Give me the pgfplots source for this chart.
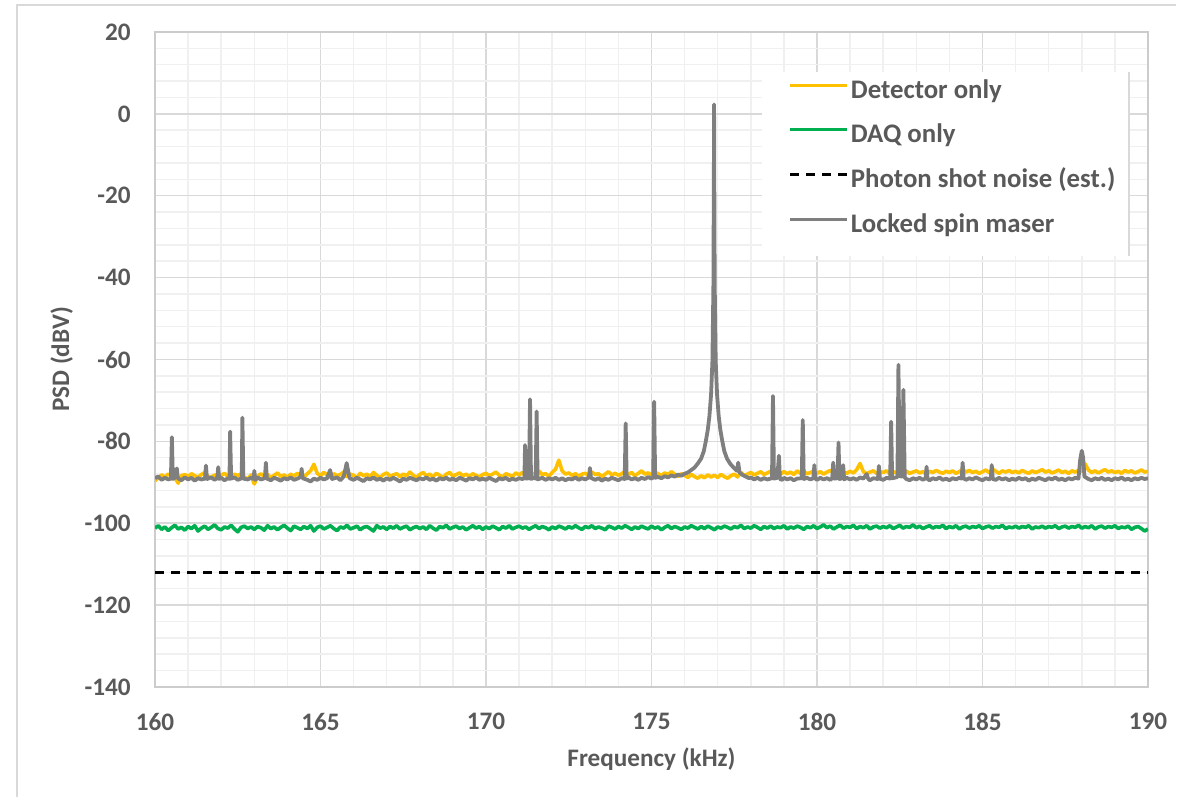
\documentclass[border=0pt]{standalone}
\usepackage{fontspec}
\setmainfont{Carlito}
\usepackage{pgfplots}
\usepackage{pgfplotstable}
\pgfplotsset{compat=1.18}

\definecolor{txt}{HTML}{595959}
\definecolor{majgrid}{HTML}{D9D9D9}
\definecolor{mingrid}{HTML}{F0F0F0}
\definecolor{axgray}{HTML}{CCCCCC}
\definecolor{detyellow}{HTML}{FFC000}
\definecolor{daqgreen}{HTML}{00B050}
\definecolor{masergray}{HTML}{7F7F7F}

% detector-only and DAQ-only spectra, 0.1 kHz steps
\pgfplotstableread{
f det daq
160.0 -89.6 -101.2
160.1 -88.9 -100.6
160.2 -88.2 -101.5
160.3 -88.7 -100.9
160.4 -88.0 -101.8
160.5 -88.5 -101.1
160.6 -88.9 -100.5
160.7 -90.2 -101.4
160.8 -88.4 -101.0
160.9 -88.1 -101.7
161.0 -88.6 -100.8
161.1 -87.9 -101.3
161.2 -88.4 -100.6
161.3 -88.8 -101.9
161.4 -88.1 -101.2
161.5 -87.6 -100.7
161.6 -88.5 -101.5
161.7 -88.9 -101.0
161.8 -88.2 -100.4
161.9 -88.7 -101.3
162.0 -88.3 -101.6
162.1 -87.8 -100.9
162.2 -88.6 -101.2
162.3 -89.1 -100.5
162.4 -88.0 -101.4
162.5 -88.4 -102.1
162.6 -87.9 -101.0
162.7 -88.7 -100.7
162.8 -89.3 -101.3
162.9 -88.2 -100.9
163.0 -90.4 -101.5
163.1 -88.5 -100.8
163.2 -87.9 -101.1
163.3 -88.6 -101.7
163.4 -88.1 -100.6
163.5 -88.9 -101.3
163.6 -88.3 -100.9
163.7 -87.7 -101.6
163.8 -88.6 -101.0
163.9 -88.2 -100.5
164.0 -88.8 -101.2
164.1 -88.0 -101.8
164.2 -88.5 -100.7
164.3 -87.8 -101.1
164.4 -88.3 -101.5
164.5 -88.7 -100.8
164.6 -87.9 -101.3
164.7 -87.2 -100.6
164.8 -85.6 -101.9
164.9 -87.8 -101.0
165.0 -88.4 -100.7
165.1 -87.6 -101.4
165.2 -88.2 -101.0
165.3 -88.8 -100.6
165.4 -87.9 -101.3
165.5 -88.4 -101.8
165.6 -88.1 -100.9
165.7 -87.5 -101.2
165.8 -88.6 -100.5
165.9 -88.0 -101.4
166.0 -88.3 -101.1
166.1 -88.9 -100.7
166.2 -87.8 -101.6
166.3 -88.4 -101.0
166.4 -88.0 -100.8
166.5 -88.7 -101.3
166.6 -87.6 -101.9
166.7 -88.3 -100.6
166.8 -88.9 -101.2
166.9 -88.1 -100.9
167.0 -87.7 -101.5
167.1 -88.5 -100.8
167.2 -88.2 -101.2
167.3 -87.9 -100.6
167.4 -88.6 -101.4
167.5 -88.0 -101.0
167.6 -88.4 -100.7
167.7 -87.5 -101.6
167.8 -88.3 -101.1
167.9 -88.8 -100.8
168.0 -88.1 -101.3
168.1 -87.6 -100.9
168.2 -88.4 -101.5
168.3 -88.0 -100.6
168.4 -88.7 -101.2
168.5 -87.8 -101.7
168.6 -88.3 -100.8
168.7 -88.9 -101.1
168.8 -88.0 -100.5
168.9 -87.6 -101.4
169.0 -88.5 -101.0
169.1 -88.1 -100.7
169.2 -87.7 -101.3
169.3 -88.4 -100.9
169.4 -88.0 -101.6
169.5 -88.6 -101.1
169.6 -87.9 -100.6
169.7 -88.3 -101.2
169.8 -88.7 -100.8
169.9 -88.1 -101.5
170.0 -87.8 -100.9
170.1 -88.4 -101.3
170.2 -88.0 -100.7
170.3 -87.5 -101.1
170.4 -88.3 -101.6
170.5 -88.7 -100.8
170.6 -87.9 -101.2
170.7 -88.2 -100.6
170.8 -88.6 -101.4
170.9 -87.7 -101.0
171.0 -88.2 -100.7
171.1 -87.6 -101.2
171.2 -88.5 -100.9
171.3 -88.0 -101.5
171.4 -87.8 -101.0
171.5 -88.4 -100.6
171.6 -87.3 -101.3
171.7 -88.1 -100.8
171.8 -87.9 -101.1
171.9 -88.5 -101.6
172.0 -87.6 -100.9
172.1 -86.8 -101.3
172.2 -84.6 -100.7
172.3 -87.2 -101.0
172.4 -88.0 -101.4
172.5 -87.7 -100.8
172.6 -88.3 -101.2
172.7 -87.9 -100.6
172.8 -88.5 -101.1
172.9 -88.0 -101.5
173.0 -87.8 -100.8
173.1 -88.3 -101.1
173.2 -87.5 -100.6
173.3 -88.1 -101.3
173.4 -87.9 -100.9
173.5 -88.6 -101.2
173.6 -88.0 -101.6
173.7 -87.4 -100.7
173.8 -88.2 -101.0
173.9 -87.8 -101.4
174.0 -88.3 -100.8
174.1 -87.9 -101.2
174.2 -87.3 -100.6
174.3 -88.1 -101.0
174.4 -87.6 -101.5
174.5 -88.4 -100.9
174.6 -87.8 -101.3
174.7 -87.2 -100.7
174.8 -88.0 -101.1
174.9 -87.7 -101.4
175.0 -88.2 -100.7
175.1 -87.5 -101.2
175.2 -87.9 -100.9
175.3 -88.4 -101.6
175.4 -87.7 -101.0
175.5 -88.1 -100.6
175.6 -87.4 -101.3
175.7 -88.0 -100.8
175.8 -88.6 -101.1
175.9 -87.9 -101.5
176.0 -88.3 -100.9
176.1 -88.8 -101.2
176.2 -88.1 -100.6
176.3 -88.6 -101.0
176.4 -89.0 -101.4
176.5 -88.4 -100.8
176.6 -88.9 -101.3
176.7 -88.2 -100.7
176.8 -88.7 -101.1
176.9 -88.3 -101.6
177.0 -88.8 -100.9
177.1 -88.1 -101.2
177.2 -88.6 -100.7
177.3 -89.0 -101.0
177.4 -88.4 -101.4
177.5 -88.0 -100.8
177.6 -88.7 -101.1
177.7 -87.6 -100.5
177.8 -88.3 -101.3
177.9 -88.0 -100.9
178.0 -87.6 -101.2
178.1 -88.2 -100.6
178.2 -87.8 -101.0
178.3 -87.4 -101.5
178.4 -88.1 -100.8
178.5 -87.7 -101.2
178.6 -87.3 -100.7
178.7 -87.9 -101.3
178.8 -87.5 -100.9
178.9 -88.0 -101.1
179.0 -87.4 -100.6
179.1 -87.9 -101.4
179.2 -87.5 -100.9
179.3 -88.1 -101.2
179.4 -87.2 -100.7
179.5 -87.8 -101.0
179.6 -87.4 -101.5
179.7 -87.9 -100.8
179.8 -87.6 -101.1
179.9 -87.3 -100.6
180.0 -87.8 -101.3
180.1 -87.4 -100.9
180.2 -88.0 -100.4
180.3 -87.5 -101.1
180.4 -87.1 -100.7
180.5 -87.7 -101.4
180.6 -87.3 -100.9
180.7 -87.9 -100.5
180.8 -87.5 -101.2
180.9 -87.8 -100.8
181.0 -87.3 -101.0
181.1 -87.7 -100.5
181.2 -86.9 -101.3
181.3 -85.4 -100.8
181.4 -87.4 -101.1
181.5 -87.9 -100.6
181.6 -87.5 -101.4
181.7 -87.2 -100.9
181.8 -87.8 -100.7
181.9 -87.4 -101.2
182.0 -87.6 -100.8
182.1 -87.2 -101.1
182.2 -87.9 -100.6
182.3 -87.4 -101.3
182.4 -87.7 -100.9
182.5 -87.1 -100.5
182.6 -87.6 -101.2
182.7 -87.3 -100.8
182.8 -87.8 -101.0
182.9 -87.5 -100.4
183.0 -87.2 -101.1
183.1 -87.7 -100.7
183.2 -87.4 -101.3
183.3 -87.9 -100.9
183.4 -87.3 -100.6
183.5 -87.6 -101.2
183.6 -87.1 -100.8
183.7 -87.5 -101.0
183.8 -87.8 -100.5
183.9 -87.3 -101.3
184.0 -87.6 -100.8
184.1 -87.2 -101.1
184.2 -87.8 -100.6
184.3 -87.4 -101.4
184.4 -86.8 -100.9
184.5 -87.5 -100.7
184.6 -87.1 -101.2
184.7 -87.6 -100.8
184.8 -87.3 -101.0
184.9 -87.8 -100.6
185.0 -87.4 -101.3
185.1 -87.0 -100.9
185.2 -87.6 -100.7
185.3 -86.7 -101.2
185.4 -87.3 -100.8
185.5 -87.8 -101.0
185.6 -87.2 -100.5
185.7 -87.5 -101.3
185.8 -87.1 -100.9
185.9 -87.6 -101.1
186.0 -87.3 -100.7
186.1 -87.7 -101.2
186.2 -87.1 -100.8
186.3 -87.5 -101.0
186.4 -87.8 -100.6
186.5 -87.2 -101.4
186.6 -87.6 -100.9
186.7 -87.3 -101.1
186.8 -86.9 -100.7
186.9 -87.5 -101.2
187.0 -87.2 -100.8
187.1 -87.7 -101.0
187.2 -87.4 -100.6
187.3 -87.0 -101.3
187.4 -87.6 -100.9
187.5 -87.3 -100.7
187.6 -87.8 -101.2
187.7 -87.2 -100.8
187.8 -87.5 -101.0
187.9 -87.1 -100.5
188.0 -87.4 -101.2
188.1 -85.5 -100.8
188.2 -87.0 -101.1
188.3 -87.6 -100.6
188.4 -87.2 -101.4
188.5 -87.7 -100.9
188.6 -87.3 -100.7
188.7 -86.9 -101.2
188.8 -87.5 -100.8
188.9 -87.2 -101.0
189.0 -87.6 -100.6
189.1 -87.3 -101.3
189.2 -87.8 -100.9
189.3 -87.1 -101.1
189.4 -87.5 -100.7
189.5 -87.2 -101.5
189.6 -87.7 -101.0
189.7 -87.4 -100.8
189.8 -87.0 -101.3
189.9 -87.5 -101.9
190.0 -87.3 -101.4
}\noisetab

\begin{document}
\begin{tikzpicture}
\path[use as bounding box] (0pt,0pt) rectangle (597pt,398.5pt);
% chart area frame (only top and left edges show)
\draw[majgrid, line width=0.75pt] (8.5pt,0pt) -- (8.5pt,396pt) -- (588pt,396pt);
\begin{axis}[
  at={(77.5pt,55pt)}, anchor=south west,
  scale only axis, width=496.5pt, height=327.5pt,
  xmin=160, xmax=190, ymin=-140, ymax=20,
  xtick={160,165,...,190}, ytick={-140,-120,...,20},
  minor x tick num=4, minor y tick num=4,
  grid=both,
  major grid style={draw=majgrid, line width=0.75pt},
  minor grid style={draw=mingrid, line width=0.75pt},
  axis line style={draw=axgray, line width=0.75pt},
  major tick length=0pt, minor tick length=0pt,
  /pgf/number format/assume math mode=true,
  tick label style={font=\fontsize{12.6}{15}\selectfont\bfseries, text=txt},
  yticklabel style={anchor=east, inner sep=0pt, xshift=-12pt},
  xticklabel style={anchor=north, inner sep=0pt, yshift=-13pt},
  xlabel={Frequency (kHz)}, ylabel={PSD (dBV)},
  label style={font=\fontsize{12.6}{15}\selectfont\bfseries, text=txt, inner sep=0pt},
  xlabel style={at={(axis description cs:0.5,-0.1221)}, anchor=base},
  ylabel style={at={(axis description cs:-0.0866,0.5)}, anchor=base, rotate=0},
  legend style={at={(axis description cs:0.611,0.939)}, anchor=north west,
    draw=none, fill=none, inner xsep=13pt, inner ysep=1pt,
    row sep=7.5pt, column sep=1pt,
    font=\fontsize{13.4}{16}\selectfont\bfseries, text=txt,
    nodes={inner sep=0pt, text height=9pt, text depth=3pt}},
  legend cell align=left,
  legend image code/.code={\path (0pt,0pt) (28.5pt,8pt);
    \draw[#1, line width=1.5pt] (0pt,3.5pt) -- (28.5pt,3.5pt);},
  every axis plot/.append style={line join=round},
]
% legend background
\fill[white] (axis description cs:0.611,0.939) rectangle (axis description cs:0.981,0.658);
\draw[majgrid, line width=0.75pt] (axis description cs:0.981,0.939) -- (axis description cs:0.981,0.658);

\addplot[detyellow, line width=1.8pt] table[x=f, y=det] {\noisetab};
\addlegendentry{Detector only}
\addplot[daqgreen, line width=1.8pt] table[x=f, y=daq] {\noisetab};
\addlegendentry{DAQ only}
\addplot[black, line width=1.25pt, dash pattern=on 4.5pt off 3.5pt] coordinates {(160,-112) (190,-112)};
\addlegendentry{Photon shot noise (est.)}
\addplot[masergray, line width=1.9pt] coordinates {
(160.0,-89.0) (160.1,-88.6) (160.2,-89.4) (160.3,-88.9) (160.4,-89.3) (160.48,-89.1) (160.51,-79.0) (160.54,-89.2)
(160.6,-88.9) (160.66,-86.6) (160.69,-89.0) (160.8,-89.5) (160.9,-88.8)
(161.0,-89.3) (161.1,-88.9) (161.2,-89.6) (161.3,-89.0) (161.4,-89.3) (161.51,-89.1) (161.54,-85.9) (161.57,-89.2)
(161.7,-88.8) (161.8,-89.4) (161.88,-89.0) (161.91,-86.3) (161.94,-89.2)
(162.0,-88.9) (162.1,-89.5) (162.2,-89.0) (162.25,-89.2) (162.27,-77.6) (162.30,-89.1) (162.4,-88.8) (162.5,-89.4)
(162.62,-89.0) (162.64,-74.2) (162.67,-89.1) (162.8,-89.3) (162.9,-88.9)
(162.98,-89.2) (163.00,-87.2) (163.03,-89.4) (163.1,-88.8) (163.2,-89.3) (163.32,-89.0) (163.35,-85.2) (163.38,-89.1)
(163.5,-89.5) (163.6,-88.9) (163.7,-89.2) (163.8,-89.6) (163.9,-89.0)
(164.0,-89.3) (164.1,-88.8) (164.2,-89.4) (164.3,-89.1) (164.40,-88.7) (164.43,-86.7) (164.46,-89.0) (164.6,-89.4)
(164.7,-89.8) (164.8,-89.1) (164.9,-89.4)
(165.0,-88.9) (165.1,-89.3) (165.2,-89.0) (165.29,-87.0) (165.35,-89.2) (165.5,-88.8) (165.6,-89.5) (165.7,-88.6)
(165.76,-86.5) (165.79,-85.3) (165.82,-86.6) (165.88,-89.0)
(166.0,-89.4) (166.1,-88.9) (166.2,-89.3) (166.3,-89.7) (166.4,-89.0) (166.5,-89.3) (166.6,-88.8) (166.7,-89.4) (166.8,-89.1) (166.9,-89.6)
(167.0,-89.0) (167.1,-89.4) (167.2,-88.9) (167.3,-89.3) (167.4,-89.8) (167.5,-89.1) (167.6,-89.4) (167.7,-88.9) (167.8,-89.2) (167.9,-89.5)
(168.0,-89.0) (168.1,-89.3) (168.2,-88.8) (168.3,-89.4) (168.4,-89.1) (168.5,-89.6) (168.6,-89.0) (168.7,-89.3) (168.8,-88.9) (168.9,-89.4)
(169.0,-89.1) (169.1,-89.5) (169.2,-88.9) (169.3,-89.2) (169.4,-89.6) (169.5,-89.0) (169.6,-89.3) (169.7,-88.8) (169.8,-89.4) (169.9,-89.1)
(170.0,-89.4) (170.1,-88.9) (170.2,-89.3) (170.3,-89.7) (170.4,-89.0) (170.5,-89.3) (170.6,-88.9) (170.7,-89.5) (170.8,-89.1) (170.9,-89.4)
(171.0,-89.0) (171.1,-89.2) (171.16,-89.0) (171.18,-80.9) (171.21,-89.1) (171.30,-89.0) (171.33,-69.7) (171.36,-89.2)
(171.43,-88.9) (171.50,-89.1) (171.53,-72.7) (171.56,-89.3) (171.7,-88.9) (171.8,-89.4) (171.9,-89.0)
(172.0,-89.3) (172.1,-88.9) (172.2,-89.4) (172.3,-89.0) (172.4,-89.5) (172.5,-89.1) (172.6,-89.3) (172.7,-88.8) (172.8,-89.4) (172.9,-89.0)
(173.0,-89.3) (173.11,-88.8) (173.14,-86.5) (173.17,-88.9) (173.3,-89.4) (173.4,-89.0) (173.5,-89.6) (173.6,-89.1) (173.7,-89.4) (173.8,-88.9) (173.9,-89.2)
(174.0,-89.5) (174.1,-89.0) (174.19,-89.2) (174.22,-75.6) (174.25,-89.1) (174.3,-88.8) (174.4,-89.3) (174.5,-89.0)
(174.6,-89.4) (174.7,-88.9) (174.8,-89.2) (174.9,-88.7)
(175.0,-89.1) (175.05,-88.8) (175.08,-70.3) (175.11,-88.9) (175.2,-88.7) (175.3,-89.0) (175.4,-88.5) (175.5,-88.8)
(175.6,-88.3) (175.7,-88.6) (175.8,-88.1) (175.9,-88.4)
(176.0,-87.9) (176.1,-87.6) (176.2,-87.0) (176.3,-86.4) (176.4,-85.4) (176.5,-84.2) (176.58,-82.4) (176.64,-80.0)
(176.70,-77.2) (176.75,-73.8) (176.80,-68.5) (176.84,-60.5) (176.87,-42.0) (176.885,-12.0) (176.89,2.3) (176.895,-12.0)
(176.91,-42.0) (176.94,-60.5) (176.98,-68.5) (177.03,-73.8) (177.08,-77.2) (177.14,-80.0) (177.20,-82.4) (177.28,-84.2)
(177.38,-85.5) (177.48,-86.4) (177.58,-87.2) (177.62,-85.2) (177.66,-87.6) (177.75,-88.2) (177.85,-88.6) (177.95,-89.0)
(178.0,-88.8) (178.1,-89.3) (178.2,-88.9) (178.3,-89.4) (178.4,-89.0) (178.5,-89.3) (178.64,-89.0) (178.67,-68.9)
(178.70,-89.1) (178.8,-88.9) (178.85,-83.5) (178.88,-89.2) (178.95,-89.4)
(179.0,-88.9) (179.1,-89.3) (179.2,-89.0) (179.3,-89.5) (179.4,-89.1) (179.54,-89.0) (179.57,-74.8) (179.60,-89.2)
(179.7,-88.9) (179.8,-89.3) (179.89,-89.0) (179.92,-85.8) (179.95,-89.1)
(180.0,-89.4) (180.1,-88.9) (180.2,-89.3) (180.3,-89.0) (180.4,-89.4) (180.46,-89.0) (180.49,-85.2) (180.52,-89.1)
(180.62,-89.0) (180.65,-80.3) (180.68,-89.2) (180.76,-89.0) (180.79,-85.8) (180.82,-89.3) (180.9,-88.9)
(181.0,-89.3) (181.1,-89.0) (181.2,-89.4) (181.3,-88.8) (181.4,-89.1) (181.5,-88.0) (181.55,-89.2) (181.6,-89.5)
(181.7,-89.0) (181.84,-89.2) (181.87,-86.0) (181.90,-89.1)
(182.0,-89.4) (182.1,-88.9) (182.21,-89.1) (182.24,-75.2) (182.27,-89.0) (182.34,-88.9) (182.43,-88.7) (182.46,-61.3)
(182.50,-88.5) (182.57,-88.6) (182.61,-67.4) (182.65,-88.8) (182.7,-89.2) (182.8,-89.5) (182.9,-89.0)
(183.0,-89.3) (183.1,-88.9) (183.2,-89.4) (183.28,-89.0) (183.31,-86.2) (183.34,-89.2) (183.4,-89.5) (183.5,-89.0)
(183.6,-89.3) (183.7,-88.8) (183.8,-89.4) (183.9,-89.1)
(184.0,-89.5) (184.1,-89.0) (184.2,-89.3) (184.3,-88.9) (184.37,-89.1) (184.40,-85.2) (184.43,-89.0) (184.5,-89.4)
(184.6,-89.0) (184.7,-89.3) (184.8,-88.8) (184.9,-89.2)
(185.0,-89.5) (185.1,-89.0) (185.2,-89.3) (185.25,-89.0) (185.28,-85.8) (185.31,-89.2) (185.4,-89.4) (185.5,-88.9)
(185.6,-89.3) (185.7,-89.0) (185.8,-89.5) (185.9,-89.1)
(186.0,-89.4) (186.1,-88.9) (186.2,-89.3) (186.3,-89.0) (186.4,-89.6) (186.5,-89.1) (186.6,-89.4) (186.7,-88.9) (186.8,-89.2) (186.9,-89.5)
(187.0,-89.0) (187.1,-89.3) (187.2,-88.8) (187.3,-89.4) (187.4,-89.1) (187.5,-89.5) (187.6,-89.0) (187.7,-89.3) (187.8,-88.9) (187.9,-89.1)
(187.95,-84.5) (188.0,-82.3) (188.04,-84.0) (188.08,-88.6) (188.2,-89.2) (188.3,-89.5) (188.4,-89.0) (188.5,-89.3)
(188.6,-88.9) (188.7,-89.4) (188.8,-89.1) (188.9,-89.5)
(189.0,-89.0) (189.1,-89.3) (189.2,-88.8) (189.3,-89.4) (189.4,-89.1) (189.5,-89.5) (189.6,-89.0) (189.7,-89.3) (189.8,-88.9) (189.9,-89.2) (190.0,-89.0)
};
\addlegendentry{Locked spin maser}
\end{axis}
\end{tikzpicture}
\end{document}
